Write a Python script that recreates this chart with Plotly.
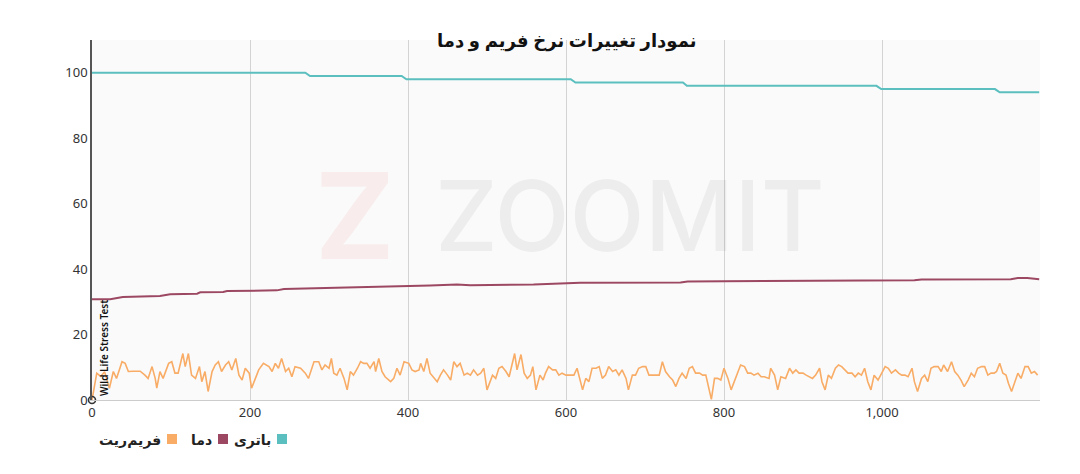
import plotly.graph_objects as go

# ---------------- data ----------------
title_text = "نمودار تغییرات نرخ فریم و دما"
series_names = ["فریم‌ریت", "دما", "باتری"]
event_label = "Wild Life Stress Test"

x_ticks = [0, 200, 400, 600, 800, 1000]
y_ticks = [0, 20, 40, 60, 80, 100]

battery_time = [0, 270, 276, 392, 398, 606, 612, 748, 753, 993, 999, 1143, 1149, 1199]
battery_value = [100, 100, 99, 99, 98, 98, 97, 97, 96, 96, 95, 95, 94, 94]

temp_time = [0, 23, 39, 86, 99, 133, 137, 166, 171, 234, 243, 318, 326, 390, 428, 462,
             479, 559, 618, 745, 754, 800, 897, 906, 1041, 1050, 1096, 1100, 1163, 1172,
             1184, 1199]
temp_value = [30.8, 30.8, 31.5, 31.8, 32.3, 32.5, 32.9, 33.0, 33.3, 33.5, 33.9, 34.3, 34.5,
              34.7, 35.0, 35.3, 35.1, 35.3, 35.8, 35.9, 36.2, 36.3, 36.4, 36.6, 36.6, 36.8,
              36.8, 36.9, 36.9, 37.3, 37.3, 36.9]

fps_time = [0, 6, 11, 16, 22, 27, 31, 38, 42, 46, 52, 61, 67, 71, 76, 80, 82, 86, 90, 97,
            101, 105, 109, 115, 118, 122, 126, 131, 136, 139, 143, 147, 152, 156, 160, 164,
            169, 173, 177, 182, 186, 190, 194, 199, 202, 207, 211, 217, 224, 228, 232, 236,
            240, 245, 249, 253, 257, 264, 270, 274, 281, 287, 291, 295, 300, 303, 306, 310,
            314, 319, 323, 327, 331, 336, 340, 344, 348, 352, 357, 359, 363, 367, 371, 378,
            382, 386, 390, 395, 401,
            405, 409, 414, 416, 420, 424, 428, 433, 437, 441, 445, 450, 454, 458, 462, 466,
            471, 475, 479, 483, 488, 492, 496, 500, 504, 507, 511, 515, 519, 524, 528, 532,
            535, 538, 543, 547, 551, 555, 558, 562, 567, 571, 574, 578, 583, 587, 591, 595,
            600, 606, 610, 614, 621, 625, 629, 633, 638, 642, 646, 650, 654, 659, 663, 667,
            671, 676, 679, 684, 688, 692, 697, 701, 705, 709, 714, 718, 722, 726, 731, 735,
            739, 743, 747, 752, 756, 760, 764, 769, 773, 777, 784, 788, 792, 796,
            800, 805, 809, 813, 817, 821, 826, 830, 834, 838, 843, 847, 851, 857, 859, 864,
            868, 872, 878, 883, 887, 891, 895, 900, 904, 908, 912, 916, 921, 924, 928, 932,
            936, 941, 945, 949, 953, 957, 962, 966, 970, 974, 978, 982, 986, 990, 995, 1000,
            1004, 1008, 1012, 1017, 1021, 1025, 1029, 1033, 1038, 1041, 1045, 1050, 1054,
            1058, 1062, 1066, 1071, 1075, 1078, 1083, 1088, 1092, 1096, 1100, 1104, 1109,
            1113, 1117, 1121, 1126, 1130, 1134, 1138, 1142, 1145, 1149, 1153, 1157, 1160,
            1164, 1168, 1172, 1176, 1181, 1185, 1189, 1193, 1197]
fps_value = [0, 8.2, 7.2, 8.6, 3.6, 8.7, 6.6, 11.7, 11.2, 8.7, 8.8, 8.8, 7.6, 6.6, 10.2, 6.6,
             3.6, 8.7, 6.6, 11.2, 11.7, 8.2, 8.2, 14.2, 10.2, 14.2, 7.6, 6.6, 10.2, 5.6, 8.7,
             2.6, 8.7, 10.7, 11.7, 8.7, 10.7, 11.7, 9.2, 12.7, 7.6, 6.1, 9.7, 8.2, 3.6, 6.6,
             9.2, 11.2, 10.2, 8.7, 11.2, 9.7, 12.7, 8.7, 9.7, 7.1, 10.2, 9.7, 8.2, 6.6, 11.7,
             11.7, 9.2, 10.7, 9.7, 12.7, 8.2, 7.6, 9.7, 6.6, 3.1, 8.7, 7.6, 9.7, 11.7, 11.2,
             11.2, 9.7, 11.7, 8.7, 12.7, 8.7, 7.1, 5.6, 6.6, 9.7, 7.6, 11.7, 11.2,
             9.2, 8.7, 9.2, 11.2, 8.7, 12.7, 8.2, 6.6, 5.6, 7.6, 9.2, 7.6, 6.1, 11.7, 10.2,
             11.2, 7.6, 8.2, 7.6, 9.2, 7.6, 8.2, 9.7, 3.1, 5.6, 7.6, 6.6, 9.7, 10.2, 8.7, 7.1,
             10.7, 14.2, 9.2, 13.9, 8.2, 6.6, 7.6, 10.2, 3.1, 7.6, 6.1, 8.2, 10.2, 9.2, 9.2,
             7.6, 8.2, 7.6, 7.6, 7.6, 9.7, 3.1, 6.6, 5.6, 9.7, 9.7, 10.2, 6.6, 7.6, 10.2, 8.7,
             9.2, 7.6, 9.2, 6.6, 3.1, 7.6, 7.6, 9.7, 10.2, 10.2, 7.6, 7.6, 7.6, 7.6, 11.7,
             8.7, 7.1, 6.1, 4.1, 6.6, 8.2, 6.6, 9.7, 10.2, 8.2, 8.2, 7.6, 7.6, 0.2, 6.6, 6.6,
             6.1, 9.7,
             6.6, 3.1, 5.6, 8.7, 10.7, 10.2, 8.2, 8.2, 7.6, 8.2, 7.1, 7.1, 6.6, 9.7, 7.6,
             3.1, 7.1, 6.6, 9.7, 8.2, 9.2, 8.2, 8.2, 7.6, 7.1, 6.6, 7.6, 9.7, 5.6, 3.1, 7.6,
             6.6, 9.7, 10.7, 10.2, 9.2, 8.2, 8.2, 7.1, 8.2, 7.6, 9.7, 5.6, 3.1, 7.6, 6.1, 8.2,
             10.2, 9.7, 8.2, 9.2, 8.2, 7.6, 7.6, 7.1, 9.7, 5.6, 2.6, 6.6, 7.6, 5.6, 9.7, 10.2,
             10.2, 8.7, 10.7, 8.7, 11.7, 8.7, 7.6, 6.1, 4.1, 6.1, 8.2, 7.1, 9.7, 10.2, 10.2,
             7.6, 8.2, 8.2, 8.7, 11.2, 8.2, 7.6, 5.1, 2.6, 5.6, 8.2, 6.6, 10.2, 10.2, 8.2, 8.7,
             7.6, 8.2]

# ---------------- style ----------------
c_fps = "#f8ac66"
c_temp = "#9c4862"
c_bat = "#5cbfbf"
font_fa = "Noto Sans, DejaVu Sans, sans-serif"

W, H = 1080, 474
ML, MR, MT, MB = 92, 40, 40, 74
PW, PH = W - ML - MR, H - MT - MB

fig = go.Figure()
fig.add_trace(go.Scatter(x=fps_time, y=fps_value, mode="lines", name=series_names[0],
                         line=dict(color=c_fps, width=1.6), showlegend=False))
fig.add_trace(go.Scatter(x=temp_time, y=temp_value, mode="lines", name=series_names[1],
                         line=dict(color=c_temp, width=2), showlegend=False))
fig.add_trace(go.Scatter(x=battery_time, y=battery_value, mode="lines", name=series_names[2],
                         line=dict(color=c_bat, width=2), showlegend=False))
# event marker
fig.add_trace(go.Scatter(x=[fps_time[0]], y=[0], mode="markers", showlegend=False,
                         marker=dict(symbol="circle-open", size=7, color="#333",
                                     line=dict(width=1.6)), hoverinfo="skip", cliponaxis=False))

annotations = []
annotations.append(dict(x=0, y=0, xref="x", yref="y", text=event_label, textangle=-90,
                        showarrow=False, xanchor="left", yanchor="bottom", xshift=3, yshift=2,
                        font=dict(family="Noto Sans, sans-serif", size=10, color="#111",
                                  weight=600)))

# watermark
annotations.append(dict(x=(630 - ML) / PW, y=(H - MB - 215) / PH, xref="paper", yref="paper",
                        text="ZOOMIT", showarrow=False, xanchor="center",
                        font=dict(family="Inter, sans-serif", size=98, color="rgba(0,0,0,0.05)",
                                  weight=500)))
annotations.append(dict(x=(355 - ML) / PW, y=(H - MB - 215) / PH, xref="paper", yref="paper",
                        text="<b>Z</b>", showarrow=False, xanchor="center",
                        font=dict(family="Inter, sans-serif", size=120, color="rgba(220,60,60,0.07)")))

# title as annotation (drawn on top)
annotations.append(dict(x=0.5, y=1, xref="paper", yref="paper", text="<b>" + title_text + "</b>",
                        showarrow=False, xanchor="center", yanchor="middle", yshift=0,
                        font=dict(family=font_fa, size=18, color="#111")))

# custom RTL legend
legend_items = [(series_names[2], c_bat, 287), (series_names[1], c_temp, 228), (series_names[0], c_fps, 177)]
shapes = []
ly = 439
for name, col, right_px in legend_items:
    x1 = (right_px - ML) / PW
    x0 = (right_px - 10 - ML) / PW
    y0 = (H - MB - (ly + 5)) / PH
    y1 = (H - MB - (ly - 5)) / PH
    shapes.append(dict(type="rect", xref="paper", yref="paper", x0=x0, x1=x1, y0=y0, y1=y1,
                       fillcolor=col, line=dict(width=0)))
    annotations.append(dict(x=(right_px - 14 - ML) / PW, y=(H - MB - ly) / PH, xref="paper",
                            yref="paper", text="<b>" + name + "</b>", showarrow=False,
                            xanchor="right", yanchor="middle",
                            font=dict(family=font_fa, size=14, color="#222")))

fig.update_layout(
    width=W, height=H,
    margin=dict(l=ML, r=MR, t=MT, b=MB),
    paper_bgcolor="white",
    plot_bgcolor="#fafafa",
    xaxis=dict(range=[0, 1200], tickvals=x_ticks, tickformat=",d", showgrid=True,
               gridcolor="#d3d3d3", gridwidth=1, zeroline=False, showline=True,
               linecolor="#cccccc", linewidth=1, ticks="",
               tickfont=dict(family="Noto Sans, sans-serif", size=13, color="#333")),
    yaxis=dict(range=[0, 110], tickvals=y_ticks, showgrid=False, zeroline=False,
               showline=True, linecolor="#555", linewidth=1.5, ticks="",
               tickfont=dict(family="Noto Sans, sans-serif", size=13, color="#333")),
    shapes=shapes,
    annotations=annotations,
    showlegend=False,
)

fig.write_html("out.html", config={"displayModeBar": False},
               post_script="document.body.style.margin='0';document.body.style.padding='0';")
